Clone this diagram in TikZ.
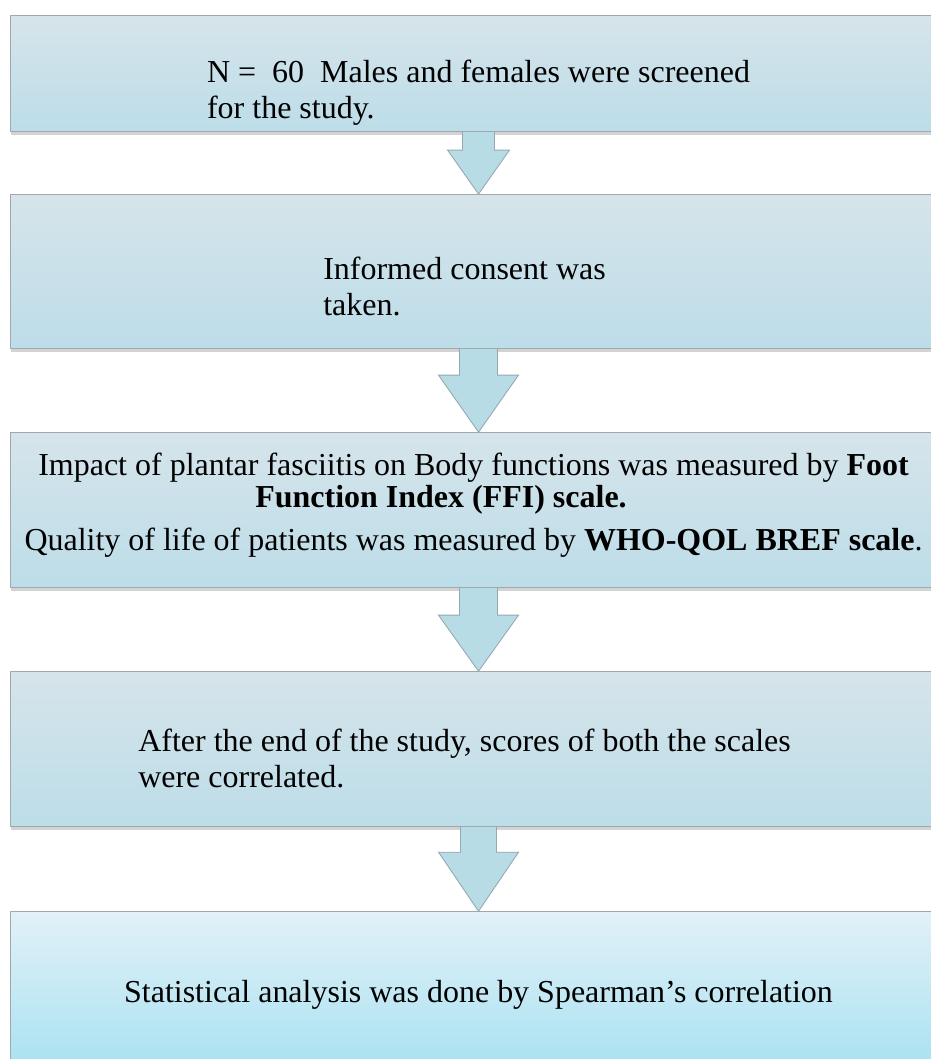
\documentclass[tikz,border=0pt]{standalone}
\usepackage{fontspec}
\setmainfont{Liberation Serif}
\usetikzlibrary{positioning,calc,shadows}

\definecolor{boxtop}{RGB}{214,228,234}
\definecolor{boxbot}{RGB}{188,221,233}
\definecolor{lasttop}{RGB}{226,241,247}
\definecolor{lastbot}{RGB}{164,224,241}
\definecolor{boxline}{RGB}{160,168,172}
\definecolor{arrowfill}{RGB}{184,220,230}
\definecolor{arrowline}{RGB}{150,168,176}

\tikzset{
  stepbox/.style={rectangle, draw=boxline, line width=0.6pt, top color=boxtop, bottom color=boxbot,
    minimum width=18.72cm, inner sep=0pt,
    drop shadow={shadow xshift=0pt, shadow yshift=-2pt, opacity=0.35}},
  lastbox/.style={stepbox, top color=lasttop, bottom color=lastbot},
  steptext/.style={font=\fontsize{18.2}{20.5}\selectfont, inner sep=0pt, anchor=north},
  flowarrow/.style={draw=arrowline, line width=0.5pt, fill=arrowfill, line join=miter}
}

\begin{document}
\begin{tikzpicture}
\path [use as bounding box, clip] (0,0) rectangle (18.62,-21.18);

\node [stepbox, minimum height=2.32cm, anchor=north west] (b1) at (0.2,-0.3) {};
\node [stepbox, minimum height=3.08cm, below=1.24cm of b1] (b2) {};
\node [stepbox, minimum height=3.1cm, below=1.66cm of b2] (b3) {};
\node [stepbox, minimum height=3.1cm, below=1.66cm of b3] (b4) {};
\node [lastbox, minimum height=3.4cm, below=1.68cm of b4] (b5) {};

\foreach \a/\b/\s/\h/\l in {b1/b2/0.32/0.62/0.88, b2/b3/0.38/0.8/1.14, b3/b4/0.38/0.8/1.12, b4/b5/0.36/0.8/1.18}
  \fill [flowarrow] ($(\a.south)+(-\s,0)$) -- ($(\b.north)+(-\s,\l)$) -- ($(\b.north)+(-\h,\l)$)
    -- (\b.north) -- ($(\b.north)+(\h,\l)$) -- ($(\b.north)+(\s,\l)$) -- ($(\a.south)+(\s,0)$);

\node [steptext, align=left] (t1) at ($(b1.north)+(0,-0.9)$)
  {N =\ \ 60\ \ Males and females were screened\\for the study.};
\node [steptext, align=left] (t2) at ($(b2.north)+(-0.28,-1.26)$)
  {Informed consent was\\taken.};
\node [steptext, align=center] (t3) at ($(b3.north)+(-0.1,-0.42)$)
  {Impact of plantar fasciitis on Body functions was measured by \textbf{Foot}\\[-2.4pt]
   \textbf{Function Index (FFI) scale.}\kern1.3cm\\[3.6pt]
   Quality of life of patients was measured by \textbf{WHO-QOL BREF scale}.};
\node [steptext, align=left] (t4) at ($(b4.north)+(-0.28,-1.14)$)
  {After the end of the study, scores of both the scales\\were correlated.};
\node [steptext, align=left] (t5) at ($(b5.north)+(0,-1.38)$)
  {Statistical analysis was done by Spearman’s correlation};
\end{tikzpicture}
\end{document}
